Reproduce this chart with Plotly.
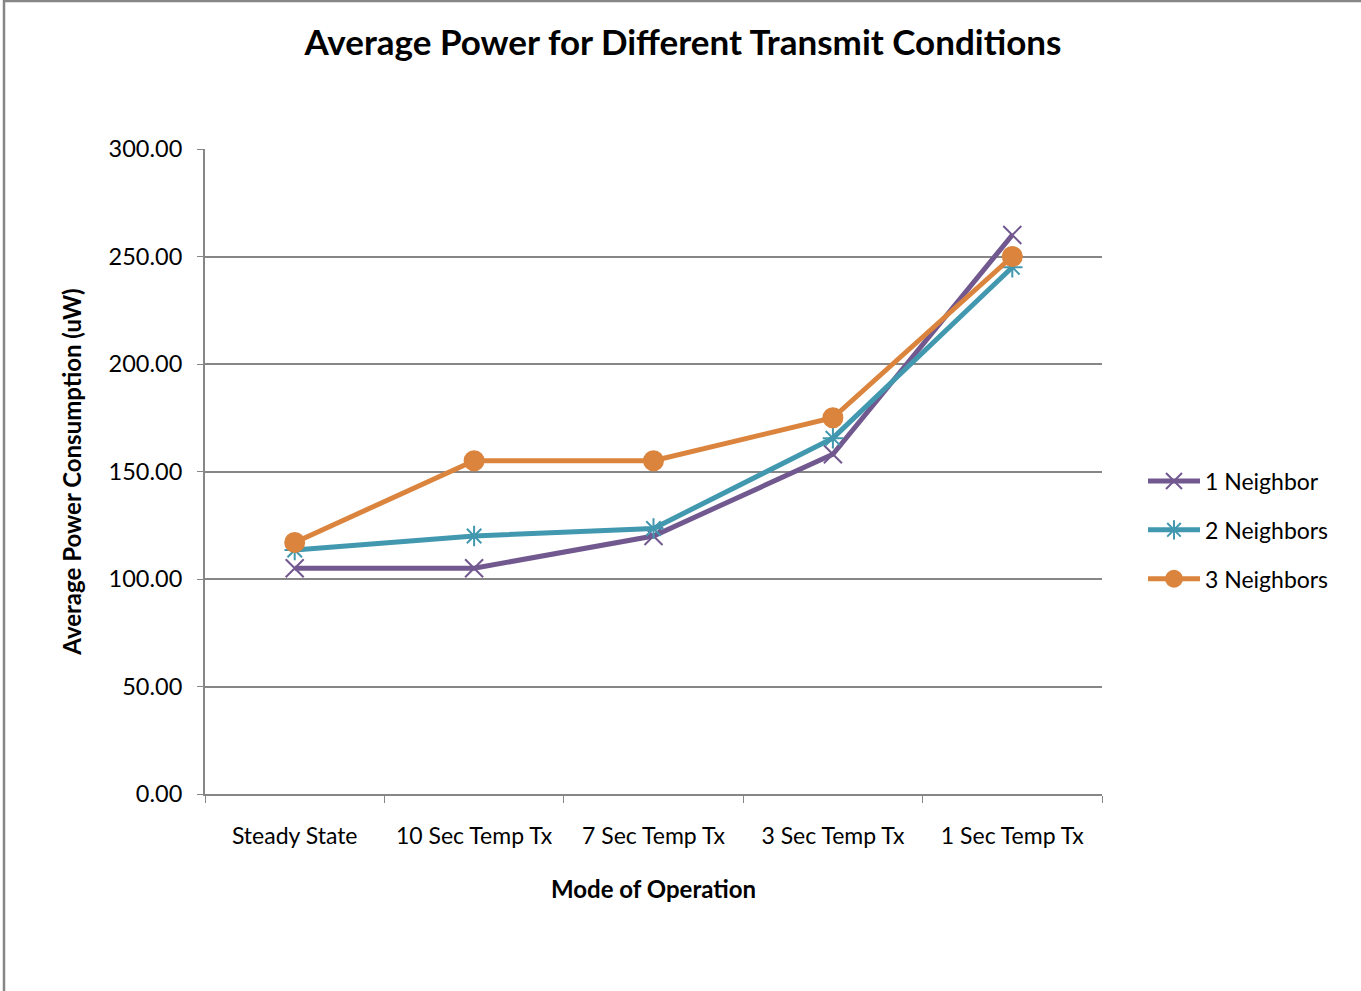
import plotly.graph_objects as go

categories = ["Steady State", "10 Sec Temp Tx", "7 Sec Temp Tx", "3 Sec Temp Tx", "1 Sec Temp Tx"]
one_neighbor = [105, 105, 120, 158, 260]
two_neighbors = [113.5, 120, 123.5, 165.5, 245]
three_neighbors = [117, 155, 155, 175, 250]
y_ticks = [0, 50, 100, 150, 200, 250, 300]

FONT = "Lato, Carlito, Calibri, sans-serif"

fig = go.Figure()
series = [
    ("1 Neighbor", one_neighbor, "#71588F", "x-thin", 18),
    ("2 Neighbors", two_neighbors, "#4198AF", "asterisk", 17),
    ("3 Neighbors", three_neighbors, "#DB843D", "circle", 19),
]
for name, vals, color, sym, size in series:
    fig.add_trace(go.Scatter(
        x=categories, y=vals, name=name, mode="lines+markers", legendgroup=name,
        line=dict(color=color, width=5),
        marker=dict(symbol=sym, size=size, color=color,
                    line=dict(color=color, width=2)),
    ))

W, H = 1361, 991
L, R, T, B = 205, 259, 149, 197
pw, ph = W - L - R, H - T - B

fig.update_layout(
    width=W, height=H,
    margin=dict(l=L, r=R, t=T, b=B),
    paper_bgcolor="white", plot_bgcolor="white",
    font=dict(family=FONT, size=23, color="black"),
    title=dict(text="<b>Average Power for Different Transmit Conditions</b>",
               x=683 / W, xanchor="center", y=1 - 43 / H, yanchor="middle",
               font=dict(size=35, family=FONT)),
    showlegend=True,
    legend=dict(x=1 + (1143 - 1102) / pw, xanchor="left", y=(794 - 530) / ph, yanchor="middle",
                font=dict(size=23, family=FONT), tracegroupgap=16, itemwidth=52,
                bgcolor="rgba(0,0,0,0)"),
    xaxis=dict(
        type="category", tickson="boundaries", ticks="outside", ticklen=7,
        tickcolor="#868686", showline=True, linecolor="#868686", linewidth=2,
        showgrid=False, range=[-0.5, 4.5], ticklabelstandoff=20,
        title=dict(text="<b>Mode of Operation</b>", font=dict(size=24), standoff=34),
        tickfont=dict(size=23),
    ),
    yaxis=dict(
        range=[0, 300], tickvals=y_ticks, tickformat=".2f", ticks="outside", ticklen=6,
        tickcolor="#868686", showline=True, linecolor="#868686", linewidth=2,
        showgrid=True, gridcolor="#868686", gridwidth=2, zeroline=False,
        ticklabelstandoff=10,
        title=dict(text="<b>Average Power Consumption (uW)</b>", font=dict(size=24), standoff=20),
        tickfont=dict(size=23.5),
    ),
    shapes=[
        dict(type="line", xref="paper", yref="paper",
             x0=(4 - L) / pw, x1=(4 - L) / pw, y0=-B / ph, y1=(H - B) / ph,
             line=dict(color="#868686", width=2.5)),
        dict(type="line", xref="paper", yref="paper",
             x0=(4 - L) / pw, x1=(W - L) / pw, y0=(H - B - 1) / ph, y1=(H - B - 1) / ph,
             line=dict(color="#868686", width=2.5)),
    ],
)

fig.write_html("out.html", config={"displayModeBar": False},
               post_script="document.body.style.margin='0';document.body.style.overflow='hidden';")
